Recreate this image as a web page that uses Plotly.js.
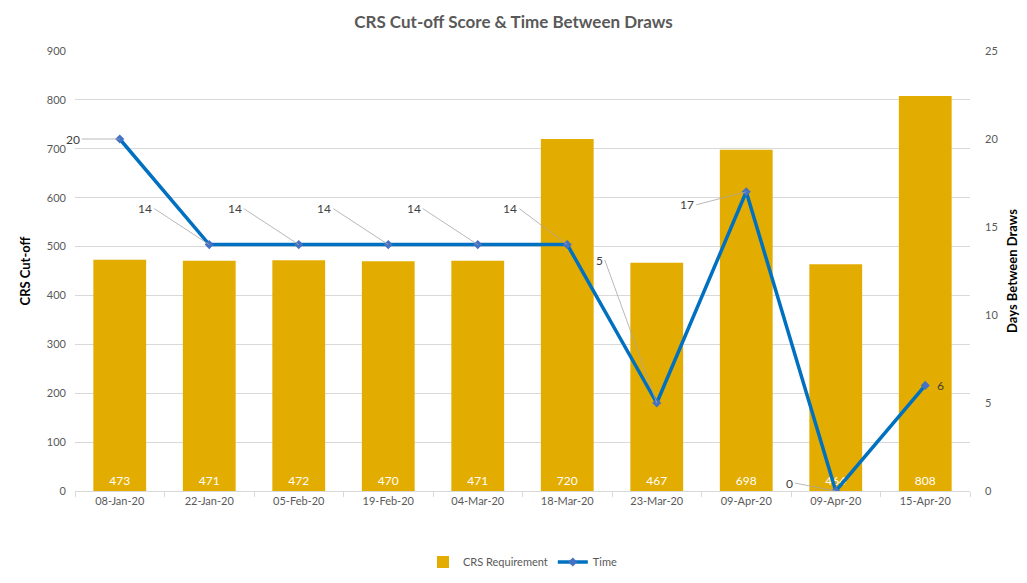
<!DOCTYPE html>
<html><head><meta charset="utf-8">
<script src="https://cdn.plot.ly/plotly-3.0.1.min.js"></script>
<style>html,body{margin:0;padding:0;background:#fff}#c{width:1027px;height:583px}</style>
</head><body><div id="c"></div>
<script>
const dates = ["08-Jan-20","22-Jan-20","05-Feb-20","19-Feb-20","04-Mar-20","18-Mar-20","23-Mar-20","09-Apr-20","09-Apr-20","15-Apr-20"];
const crs = [473,471,472,470,471,720,467,698,464,808];
const days = [20,14,14,14,14,14,5,17,0,6];
const labelOffsetX = [-38,-55,-55,-55,-55,-48,-52,-50,-41,0];
const labelOffsetY = [0,-36,-36,-36,-36,-36,-143,13,-8,0];

const idx = dates.map((d,i)=>i);
const textColor = '#595959';
const fontFam = 'Lato, "Open Sans", sans-serif';

const bars = {
  type:'bar', x:idx, y:crs, name:'CRS Requirement',
  marker:{color:'#E3AC00'}, width:0.59,
  text:crs.map(String), textposition:'inside', insidetextanchor:'start',
  textfont:{color:'#ffffff', size:12, family:fontFam}, textangle:0,
  hoverinfo:'skip'
};
const line = {
  type:'scatter', mode:'lines+markers', x:idx, y:days, name:'Time', yaxis:'y2',
  line:{color:'#0070C0', width:3.5},
  marker:{symbol:'diamond', size:7, color:'#4472C4'},
  hoverinfo:'skip'
};

const annotations = days.map((v,i)=>{
  const a = {
    x:idx[i], y:v, xref:'x', yref:'y2', text:String(v),
    showarrow:true, arrowhead:0, arrowwidth:0.8, arrowcolor:'#A6A6A6',
    ax: labelOffsetX[i], ay: labelOffsetY[i], standoff:0,
    font:{color:'#404040', size:12, family:fontFam},
    xanchor:'right'
  };
  if (i===9) { a.showarrow=false; a.xanchor='left'; a.xshift=10; }
  return a;
});

const layout = {
  width:1027, height:583,
  margin:{l:75, r:57, t:51, b:92},
  paper_bgcolor:'#fff', plot_bgcolor:'#fff',
  font:{family:fontFam, color:textColor, size:11},
  title:{text:'<b>CRS Cut-off Score & Time Between Draws</b>', x:0.5, xanchor:'center', y:0.962, yanchor:'middle',
    font:{size:17, color:'#595959', family:fontFam}},
  showlegend:true,
  legend:{orientation:'h', x:0.5, xanchor:'center', yref:'container', y:0.036, yanchor:'middle', font:{size:11, color:textColor}},
  xaxis:{range:[-0.5,9.5], tickmode:'array', tickvals:idx, ticktext:dates, ticks:'',
    showgrid:false, zeroline:false, showline:true, linecolor:'#D9D9D9', linewidth:1,
    minor:{tick0:0.5, dtick:1, ticks:'outside', ticklen:5, tickcolor:'#D9D9D9', showgrid:false},
    tickfont:{size:11, color:textColor}, fixedrange:true, automargin:false},
  yaxis:{range:[0,900], dtick:100, showgrid:true, gridcolor:'#D9D9D9', zeroline:false, showline:false,
    ticks:'', ticklabelstandoff:8, automargin:false,
    title:{text:'<b>CRS Cut-off</b>', font:{size:13, color:'#000'}, standoff:13},
    tickfont:{size:11, color:textColor}},
  yaxis2:{range:[0,25], dtick:5, overlaying:'y', side:'right', showgrid:false, zeroline:false, showline:false,
    ticks:'', ticklabelstandoff:14, automargin:false,
    title:{text:'<b>Days Between Draws</b>', font:{size:13, color:'#000'}, standoff:10},
    tickfont:{size:11, color:textColor}},
  bargap:0.41,
  annotations:annotations
};
Plotly.newPlot('c',[bars,line],layout,{displayModeBar:false, staticPlot:true});
</script></body></html>
